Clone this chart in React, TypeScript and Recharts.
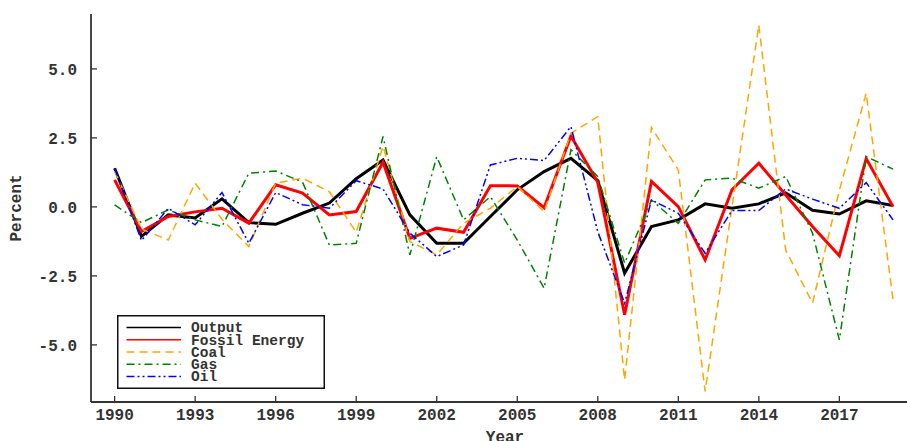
import React from 'react';
import { LineChart, Line, XAxis, YAxis, Legend } from 'recharts';

const years = [1990, 1991, 1992, 1993, 1994, 1995, 1996, 1997, 1998, 1999, 2000, 2001, 2002, 2003, 2004, 2005, 2006, 2007, 2008, 2009, 2010, 2011, 2012, 2013, 2014, 2015, 2016, 2017, 2018, 2019];
const output = [1.40, -1.07, -0.29, -0.40, 0.29, -0.57, -0.63, -0.23, 0.14, 1.02, 1.70, -0.29, -1.32, -1.32, -0.35, 0.62, 1.28, 1.76, 0.95, -2.40, -0.71, -0.47, 0.11, -0.05, 0.11, 0.51, -0.12, -0.26, 0.22, 0.05];
const fossil = [0.98, -0.89, -0.35, -0.18, -0.05, -0.59, 0.80, 0.50, -0.29, -0.17, 1.62, -1.14, -0.77, -0.92, 0.77, 0.76, -0.03, 2.57, 0.89, -3.91, 0.92, 0.01, -1.92, 0.62, 1.58, 0.43, -0.71, -1.77, 1.75, 0.01];
const coal = [1.30, -0.80, -1.20, 0.86, -0.45, -1.44, 0.86, 1.04, 0.55, -0.92, 2.20, -1.25, -1.74, -0.59, -0.05, 0.74, -0.17, 2.67, 3.27, -6.27, 2.88, 1.34, -6.69, 0.00, 6.59, -1.56, -3.49, 0.60, 4.12, -3.37];
const gas = [0.07, -0.57, -0.11, -0.47, -0.71, 1.22, 1.30, 0.90, -1.38, -1.32, 2.55, -1.74, 1.82, -0.47, 0.37, -1.20, -2.95, 2.07, 1.10, -2.04, 0.25, -0.60, 0.98, 1.04, 0.68, 1.10, -0.95, -4.82, 1.82, 1.37];
const oil = [1.40, -1.22, -0.05, -0.65, 0.52, -1.32, 0.52, 0.08, -0.05, 0.95, 0.65, -0.95, -1.80, -1.38, 1.52, 1.76, 1.68, 2.91, -0.90, -3.49, 0.25, -0.23, -1.68, -0.13, -0.13, 0.65, 0.28, -0.05, 0.88, -0.47];

const xTicks = [1990, 1993, 1996, 1999, 2002, 2005, 2008, 2011, 2014, 2017];
const yTicks = [-5, -2.5, 0, 2.5, 5];

const seriesNames = ['Output', 'Fossil Energy', 'Coal', 'Gas', 'Oil'];
const seriesKeys = ['output', 'fossil', 'coal', 'gas', 'oil'];
const seriesColors = ['#000000', '#ff0000', '#ffa500', '#008000', '#0000ff'];
const seriesDash = ['', '', '8 5', '8 4 2 4', '8 3 2 3 2 3'];
const seriesWidth = [3, 3, 1.5, 1.5, 1.5];

const data = years.map((y, i) => ({
  year: y,
  output: output[i],
  fossil: fossil[i],
  coal: coal[i],
  gas: gas[i],
  oil: oil[i],
}));

const FONT = '"Liberation Mono", "DejaVu Sans Mono", monospace';
const AX = '#333333';

const YTick = (props: any) => {
  const { x, y, payload } = props;
  return (
    <g>
      <line x1={x} x2={x + 6} y1={y} y2={y} stroke={AX} strokeWidth={1.3} />
      <text x={x - 14} y={y} dy="0.36em" textAnchor="end" fontFamily={FONT} fontSize={16} fontWeight="bold" fill={AX}>
        {Number(payload.value).toFixed(1)}
      </text>
    </g>
  );
};

const XTick = (props: any) => {
  const { x, y, payload } = props;
  return (
    <g>
      <line x1={x} x2={x} y1={y} y2={y - 6} stroke={AX} strokeWidth={1.3} />
      <text x={x} y={y + 18} textAnchor="middle" fontFamily={FONT} fontSize={16} fontWeight="bold" fill={AX}>
        {payload.value}
      </text>
    </g>
  );
};

const LegendBox = () => (
  <svg width={209} height={75} style={{ display: 'block' }}>
    <rect x={0.75} y={0.75} width={206.5} height={72.5} fill="#fff" stroke="#111" strokeWidth={1.5} />
    {seriesNames.map((n, i) => {
      const cy = 12.6 + i * 12.2;
      return (
        <g key={n}>
          <line x1={9.5} x2={64} y1={cy} y2={cy} stroke={seriesColors[i]} strokeWidth={1.5} strokeDasharray={seriesDash[i] || undefined} />
          <text x={74} y={cy} dy="0.33em" fontFamily={FONT} fontSize={14.5} fontWeight="bold" fill={AX}>
            {n}
          </text>
        </g>
      );
    })}
  </svg>
);

export default function App() {
  return (
    <div style={{ position: 'absolute', left: 0, top: 0, width: 907, height: 441, background: '#fff' }}>
      <LineChart width={907} height={441} data={data} margin={{ top: 14, right: 0, bottom: 0, left: 0 }}>
        <XAxis
          dataKey="year"
          type="number"
          domain={[1989.12, 2019.52]}
          ticks={xTicks}
          allowDataOverflow
          height={39}
          tickSize={0}
          tickMargin={0}
          tickLine={false}
          tick={<XTick />}
          axisLine={{ stroke: AX, strokeWidth: 1.8 }}
          interval={0}
          label={{
            content: () => (
              <text x={505} y={442} textAnchor="middle" fontFamily={FONT} fontSize={16} fontWeight="bold" fill={AX}>
                Year
              </text>
            ),
          }}
        />
        <YAxis
          type="number"
          domain={[-7.07, 6.99]}
          ticks={yTicks}
          allowDataOverflow
          width={91}
          tickSize={0}
          tickMargin={0}
          tickLine={false}
          tick={<YTick />}
          axisLine={{ stroke: AX, strokeWidth: 1.8 }}
          interval={0}
          label={{
            content: () => (
              <text x={15} y={208} transform="rotate(-90 15 208)" textAnchor="middle" dy="0.35em" fontFamily={FONT} fontSize={16} fontWeight="bold" fill={AX}>
                Percent
              </text>
            ),
          }}
        />
        {seriesKeys.map((k, i) => (
          <Line
            key={k}
            type="linear"
            dataKey={k}
            name={seriesNames[i]}
            stroke={seriesColors[i]}
            strokeWidth={seriesWidth[i]}
            strokeDasharray={seriesDash[i] || undefined}
            dot={false}
            activeDot={false}
            isAnimationActive={false}
          />
        ))}
        <Legend
          layout="vertical"
          align="center"
          verticalAlign="middle"
          content={() => <LegendBox />}
          wrapperStyle={{ left: 117, top: 315, width: 209, height: 75 }}
        />
      </LineChart>
    </div>
  );
}
